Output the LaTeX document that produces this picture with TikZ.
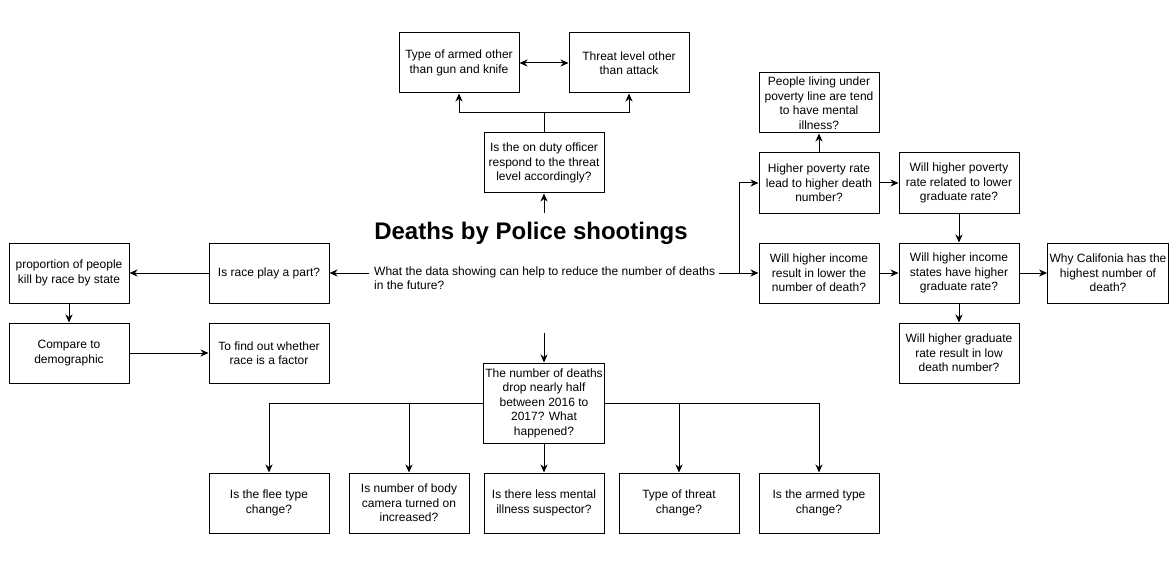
\documentclass[tikz,border=0pt]{standalone}
\usepackage{fontspec}
\setmainfont{Liberation Sans}
\usetikzlibrary{arrows.meta}
\begin{document}
\begin{tikzpicture}[x=1pt,y=-1pt,
  box/.style={draw,line width=1pt,minimum width=120pt,minimum height=60pt,align=center,inner sep=2pt,font=\fontsize{12}{14.5}\selectfont},
  tall/.style={box,minimum height=80pt},
  conn/.style={line width=1pt,-{Stealth[length=8pt,width=7pt,inset=2.5pt]}},
  dbl/.style={line width=1pt,{Stealth[length=8pt,width=7pt,inset=2.5pt]}-{Stealth[length=8pt,width=7pt,inset=2.5pt]}},
  plain/.style={line width=1pt}]
\useasboundingbox (0,0) rectangle (1176,567);
% central
\node[minimum width=350pt,minimum height=120pt,inner sep=0pt] (q) at (544,273) {};
\node[anchor=west,align=left,inner sep=0pt,font=\fontsize{12}{14.5}\selectfont] (qt) at (374,278) {What the data showing can help to reduce the number of deaths\\in the future?};
\node[font=\fontsize{24}{28}\selectfont\bfseries,inner sep=0pt] (title) at (531,233) {Deaths by Police shootings};
% top
\node[box] (armed) at (459,63) {Type of armed other\\than gun and knife};
\node[box] (threat) at (629,63) {Threat level other\\than attack};
\node[box] (officer) at (544,163) {Is the on duty officer\\respond to the threat\\level accordingly?};
% left
\node[box] (race) at (269,273) {Is race play a part?};
\node[box] (prop) at (69,273) {proportion of people\\kill by race by state};
\node[box] (comp) at (69,353) {Compare to\\demographic};
\node[box] (find) at (269,353) {To find out whether\\race is a factor};
% bottom
\node[tall] (drop) at (544,403) {The number of deaths\\drop nearly half\\between 2016 to\\2017? What\\happened?};
\node[box] (b1) at (269,503) {Is the flee type\\change?};
\node[box] (b2) at (409,503) {Is number of body\\camera turned on\\increased?};
\node[box] (b3) at (544,503) {Is there less mental\\illness suspector?};
\node[box] (b4) at (679,503) {Type of threat\\change?};
\node[box] (b5) at (819,503) {Is the armed type\\change?};
% right
\node[box] (people) at (819,103) {People living under\\poverty line are tend\\to have mental\\illness?};
\node[box] (hp) at (819,183) {Higher poverty rate\\lead to higher death\\number?};
\node[box] (whp) at (959,183) {Will higher poverty\\rate related to lower\\graduate rate?};
\node[box] (wi) at (819,273) {Will higher income\\result in lower the\\number of death?};
\node[box] (wis) at (959,273) {Will higher income\\states have higher\\graduate rate?};
\node[box] (cal) at (1108,273) {Why Califonia has the\\highest number of\\death?};
\node[box] (grad) at (959,353) {Will higher graduate\\rate result in low\\death number?};
% connectors
\draw[dbl] (armed) -- (threat);
\draw[conn] (officer.north) -- ++(0,-20) -| (armed.south);
\draw[conn] (officer.north) -- ++(0,-20) -| (threat.south);
\draw[conn] (q.north) -- (officer.south);
\draw[conn] (q.west) -- (race.east);
\draw[conn] (race.west) -- (prop.east);
\draw[conn] (prop.south) -- (comp.north);
\draw[conn] (comp.east) -- (find.west);
\draw[conn] (q.south) -- (drop.north);
\draw[conn] (drop.west) -| (b1.north);
\draw[conn] (drop.west) -| (b2.north);
\draw[conn] (drop.south) -- (b3.north);
\draw[conn] (drop.east) -| (b4.north);
\draw[conn] (drop.east) -| (b5.north);
\draw[conn] (q.east) -- (wi.west);
\draw[conn] (q.east) -- ++(20,0) |- (hp.west);
\draw[conn] (hp.north) -- (people.south);
\draw[conn] (hp.east) -- (whp.west);
\draw[conn] (whp.south) -- (wis.north);
\draw[conn] (wi.east) -- (wis.west);
\draw[conn] (wis.east) -- (cal.west);
\draw[conn] (wis.south) -- (grad.north);
\end{tikzpicture}
\end{document}
